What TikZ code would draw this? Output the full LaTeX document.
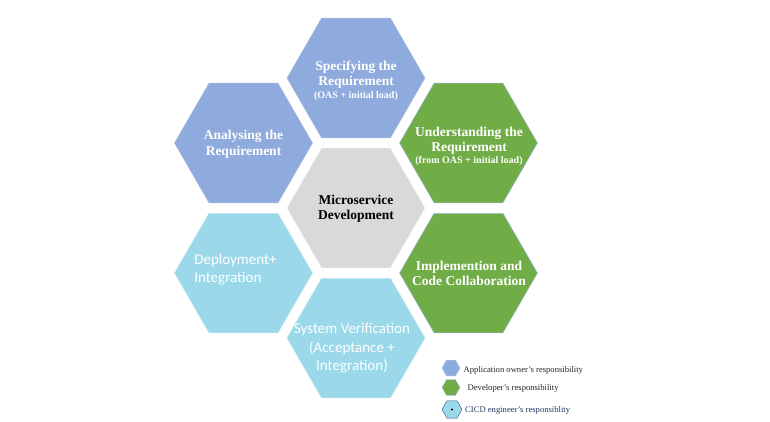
\documentclass[tikz,border=0pt]{standalone}
\usepackage{fontspec}
\setmainfont{Liberation Serif}
\newfontfamily\calibfont{Carlito}
\usetikzlibrary{shapes.geometric}

\definecolor{ownerblue}{HTML}{8FAADC}
\definecolor{devgreen}{HTML}{70AD47}
\definecolor{cicdblue}{HTML}{9AD8EA}
\definecolor{coregray}{HTML}{D9D9D9}
\definecolor{hexedge}{HTML}{A9BDE3}
\definecolor{legendtext}{HTML}{262626}
\definecolor{cicdtext}{HTML}{1F3864}
\definecolor{iconedge}{HTML}{2E5C8A}

\tikzset{
  hexcell/.style={regular polygon, regular polygon sides=6, minimum size=138pt,
    inner sep=0pt, outer sep=0pt, draw=hexedge, line width=0.5pt},
  seriflabel/.style={align=center, text=white,
    font=\bfseries\fontsize{13.5}{15.5}\selectfont},
  sanslabel/.style={text=white, font=\calibfont\fontsize{15}{18.5}\selectfont},
  legendhex/.style={regular polygon, regular polygon sides=6, minimum size=18pt,
    inner sep=0pt, outer sep=0pt, draw=hexedge, line width=0.4pt},
  legendlabel/.style={anchor=west, inner sep=0pt, text=legendtext,
    font=\fontsize{8.6}{10}\selectfont},
}

\begin{document}
\begin{tikzpicture}[x=1pt,y=-1pt]
\useasboundingbox (0,0) rectangle (770,421);
\fill[white] (0,0) rectangle (770,421);

% honeycomb cells
\node[hexcell, fill=coregray, draw=coregray!80!black!20!white] (core) at (356,208) {};
\node[hexcell, fill=ownerblue] (spec)   at (356,78)  {};
\node[hexcell, fill=ownerblue] (analyse) at (243.5,143) {};
\node[hexcell, fill=devgreen]  (under)  at (468.5,143) {};
\node[hexcell, fill=devgreen]  (impl)   at (468.5,273) {};
\node[hexcell, fill=cicdblue, draw=cicdblue!60!white]  (deploy) at (243.5,273) {};
\node[hexcell, fill=cicdblue, draw=cicdblue!60!white]  (verify) at (356,338) {};

% cell labels
\node[seriflabel] (specT) at (356,80.5)
  {Specifying the\\Requirement\\[-3pt]{\fontsize{10}{12}\selectfont (OAS + initial load)}};
\node[seriflabel] (analyseT) at (243.5,144) {Analysing the\\Requirement};
\node[seriflabel, font=\bfseries\fontsize{13.5}{14.5}\selectfont] (underT) at (469,146.5)
  {Understanding the\\Requirement\\[-2pt]{\fontsize{10}{12}\selectfont (from OAS + initial load)}};
\node[seriflabel, text=black] (coreT) at (356,208.5) {Microservice\\Development};
\node[seriflabel] (implT) at (469,273.5) {Implemention and\\Code Collaboration};
\node[sanslabel, align=left] (deployT) at (235.5,269.5) {Deployment+\\Integration};
\node[sanslabel, align=center] (verifyT) at (352,348.5)
  {System Verification\\(Acceptance +\\Integration)};

% legend
\node[legendhex, fill=ownerblue] (keyA) at (451,368) {};
\node[legendhex, fill=devgreen]  (keyD) at (451,387.5) {};
\node[legendhex, fill=cicdblue, draw=iconedge, minimum size=20pt] (keyC) at (452,409.5) {};
\fill[black] (keyC.center) circle (1.1pt);

\node[legendlabel] (keyAT) at (463.5,370) {Application owner's responsibility};
\node[legendlabel] (keyDT) at (467.5,388) {Developer's responsibility};
\node[legendlabel, text=cicdtext] (keyCT) at (465,410) {CICD engineer's responsiblity};
\end{tikzpicture}
\end{document}
